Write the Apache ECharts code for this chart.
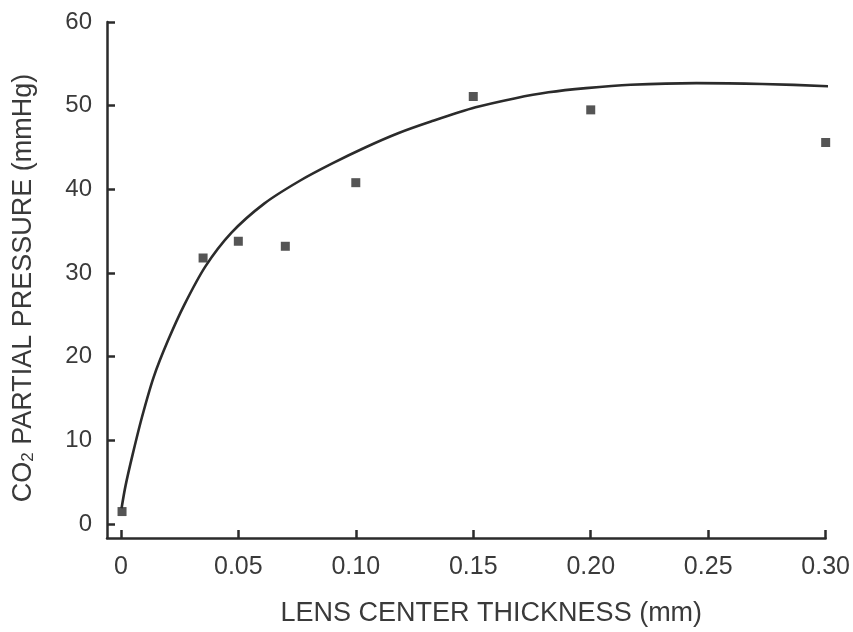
<!DOCTYPE html>
<html>
<head>
<meta charset="utf-8">
<script src="https://cdn.jsdelivr.net/npm/echarts@6/dist/echarts.min.js"></script>
<style>
html,body{margin:0;padding:0;background:#fff;}
#chart{width:853px;height:632px;}
</style>
</head>
<body>
<div id="chart"></div>
<script>
// Measured data points (lens center thickness mm, CO2 partial pressure mmHg)
var pointX = [0.0005, 0.035, 0.05, 0.07, 0.10, 0.15, 0.20, 0.30];
var pointY = [1.5, 31.8, 33.8, 33.2, 40.8, 51.1, 49.5, 45.6];

// Fitted curve
var curveX = [0.0003, 0.002, 0.005, 0.009, 0.014, 0.020, 0.027, 0.036, 0.047, 0.061, 0.076, 0.090, 0.104, 0.118, 0.132, 0.151, 0.168, 0.182, 0.198, 0.217, 0.245, 0.273, 0.304];
var curveY = [1.9, 4.6, 8.3, 12.8, 17.6, 21.9, 26.2, 30.8, 34.8, 38.3, 41.0, 43.1, 45.0, 46.7, 48.1, 49.8, 50.9, 51.6, 52.1, 52.5, 52.7, 52.6, 52.3];

// Tick values and labels
var xTickValues = [0, 0.05, 0.10, 0.15, 0.20, 0.25, 0.30];
var xTickLabels = ['0', '0.05', '0.10', '0.15', '0.20', '0.25', '0.30'];
var yTickValues = [0, 10, 20, 30, 40, 50, 60];
var yTickLabels = ['0', '10', '20', '30', '40', '50', '60'];

var xTitle = 'LENS CENTER THICKNESS (mm)';
var yTitleRich = '{a|CO}{s|2}{a| PARTIAL PRESSURE (mmHg)}';

function labelFor(values, labels, v) {
  for (var i = 0; i < values.length; i++) {
    if (Math.abs(values[i] - v) < 1e-9) return labels[i];
  }
  return '';
}

var ink = '#2b2b2b';
var textInk = '#3a3a3a';
var font = 'Liberation Sans, Arial, Helvetica, sans-serif';

var chart = echarts.init(document.getElementById('chart'));
chart.setOption({
  backgroundColor: '#ffffff',
  animation: false,
  grid: {left: 107, right: 23, top: 22, bottom: 90},
  xAxis: {
    type: 'value',
    min: -0.0059,
    max: 0.30,
    name: xTitle,
    nameLocation: 'middle',
    nameGap: 62,
    nameTextStyle: {color: textInk, fontFamily: font, fontSize: 27, padding: [0, 0, 0, 50]},
    splitLine: {show: false},
    axisLine: {show: true, onZero: false, lineStyle: {color: ink, width: 2.5}},
    axisTick: {show: true, inside: true, length: 8, customValues: xTickValues, lineStyle: {color: ink, width: 2.5}},
    axisLabel: {
      margin: 17, color: textInk, fontFamily: font, fontSize: 25,
      customValues: xTickValues,
      formatter: function (v) { return labelFor(xTickValues, xTickLabels, v); }
    }
  },
  yAxis: {
    type: 'value',
    min: -1.66,
    max: 60,
    name: yTitleRich,
    nameLocation: 'middle',
    nameGap: 70,
    nameTextStyle: {
      color: textInk, fontFamily: font, fontSize: 27, padding: [0, 16, 0, 0],
      rich: {
        a: {color: textInk, fontFamily: font, fontSize: 27, lineHeight: 27},
        s: {color: textInk, fontFamily: font, fontSize: 17, lineHeight: 11, verticalAlign: 'bottom'}
      }
    },
    splitLine: {show: false},
    axisLine: {show: true, onZero: false, lineStyle: {color: ink, width: 2.5}},
    axisTick: {show: true, inside: true, length: 8, customValues: yTickValues, lineStyle: {color: ink, width: 2.5}},
    axisLabel: {
      margin: 15, color: textInk, fontFamily: font, fontSize: 24,
      customValues: yTickValues,
      formatter: function (v) { return labelFor(yTickValues, yTickLabels, v); }
    }
  },
  series: [
    {
      type: 'line',
      data: curveX.map(function (x, i) { return [x, curveY[i]]; }),
      showSymbol: false,
      smooth: 0.3,
      clip: false,
      lineStyle: {color: ink, width: 2.6},
      silent: true
    },
    {
      type: 'scatter',
      data: pointX.map(function (x, i) { return [x, pointY[i]]; }),
      symbol: 'rect',
      symbolSize: 9,
      itemStyle: {color: ink},
      clip: false
    }
  ]
});
</script>
</body>
</html>
